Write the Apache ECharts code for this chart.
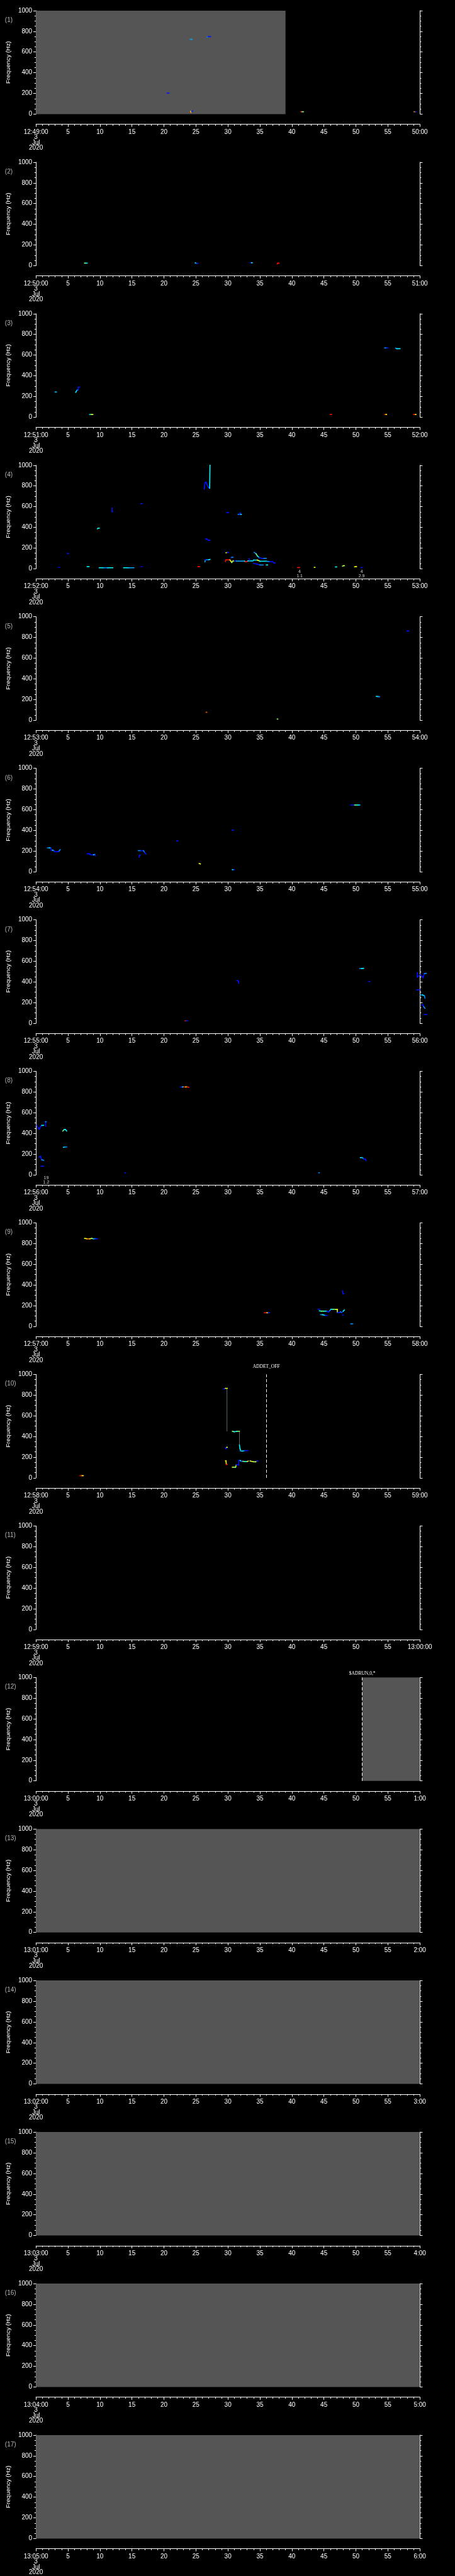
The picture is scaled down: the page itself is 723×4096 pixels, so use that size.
<!DOCTYPE html>
<html>
<head>
<meta charset="utf-8">
<script src="https://cdn.jsdelivr.net/npm/echarts@6/dist/echarts.min.js"></script>
<style>
  html, body { margin: 0; padding: 0; background: #000; }
  #chart { width: 723px; height: 4096px; }
</style>
</head>
<body>
<div id="chart"></div>
<script>
const S = 0.706

// panel time labels (each panel = one minute, x in seconds)
const startLabels = ['12:49:00', '12:50:00', '12:51:00', '12:52:00', '12:53:00', '12:54:00', '12:55:00', '12:56:00', '12:57:00',
  '12:58:00', '12:59:00', '13:00:00', '13:01:00', '13:02:00', '13:03:00', '13:04:00', '13:05:00']
const endLabels = ['50:00', '51:00', '52:00', '53:00', '54:00', '55:00', '56:00', '57:00', '58:00',
  '59:00', '13:00:00', '1:00', '2:00', '3:00', '4:00', '5:00', '6:00']
const dateLines = ['3', 'Jul', '2020']

// gray (no data) blocks: [panel, t0, t1]
const grayBlocks = [[0, 0, 39], [11, 51, 60], [12, 0, 60], [13, 0, 60], [14, 0, 60], [15, 0, 60], [16, 0, 60]]
// event markers: [panel, t, text]
const markers = [[9, 36, 'ADDET_OFF'], [11, 51, '$ADRUN,0,*']]
// small notes under the plot: [panel, t, text]
const notes = [[3, 41.2, '4\n1.1'], [3, 50.9, '4\n2.9'], [7, 1.6, '19\n1.2']]

// traces: lists of [t (s), freq (Hz), level 0..1]
const tr1 = [
  [[20.5, 203, .16], [20.8, 203, .16]],
  [[24.1, 723, .3], [24.4, 723, .3]],
  [[26.8, 742, .27], [26.9, 749, .16], [27.3, 749, .16]],
  [[24.2, 15, .85], [24.2, 28, .7], [24.3, 30, .16], [24.5, 30, .16]],
  [[41.4, 23, .98], [41.6, 23, .57], [41.8, 23, .42]],
  [[59.1, 23, .85], [59.3, 23, .16], [59.4, 23, .16]],
]
const tr2 = [
  [[7.6, 24, .7], [7.75, 24, .42], [8.0, 24, .42]],
  [[24.9, 26, .42], [25.1, 22, .16], [25.3, 22, .16]],
  [[33.5, 28, .16], [33.7, 28, .42], [33.8, 28, .42]],
  [[37.7, 16, .98], [37.8, 24, .98], [38.0, 24, .98]],
]
const tr3 = [
  [[3.0, 243, .35], [3.2, 243, .35]],
  [[6.2, 240, .42], [6.4, 260, .27], [6.6, 265, .16], [6.6, 290, .16], [6.8, 290, .16]],
  [[8.4, 26, .42], [8.7, 26, .7], [8.9, 26, .42]],
  [[46.0, 26, .98], [46.2, 26, .98]],
  [[54.5, 669, .27], [54.8, 669, .16], [55.0, 669, .16]],
  [[56.2, 667, .27], [56.4, 662, .42], [56.9, 662, .16]],
  [[54.5, 26, .98], [54.7, 26, .7], [54.8, 26, .7]],
  [[59.0, 26, .98], [59.3, 26, .7], [59.4, 26, .7]],
]
const tr4 = [
  [[3.5, 13, .1], [3.7, 13, .1]],
  [[4.9, 148, .16], [5.1, 145, .16]],
  [[8.0, 20, .42], [8.3, 20, .42]],
  [[9.6, 385, .42], [9.7, 392, .42], [9.9, 392, .42]],
  [[9.9, 9, .42], [10.6, 9, .27], [11.2, 9, .42], [12.0, 9, .3]],
  [[11.9, 586, .16], [11.9, 552, .16], [12.0, 552, .7]],
  [[13.7, 9, .42], [14.5, 9, .3], [15.3, 9, .42]],
  [[16.4, 629, .16], [16.6, 629, .16]],
  [[16.4, 20, .1], [16.6, 20, .1]],
  [[25.3, 20, .98], [25.6, 20, .98]],
  [[26.3, 770, .16], [26.45, 835, .16], [26.6, 835, .16], [26.9, 790, .16], [27.1, 780, .27], [27.15, 780, .42], [27.2, 1000, .42]],
  [[26.5, 287, .16], [26.7, 287, .16], [27.0, 274, .16], [27.2, 274, .3]],
  [[26.4, 65, .3], [26.5, 86, .16], [26.7, 86, .27], [27.0, 86, .42], [27.2, 90, .57]],
  [[29.7, 154, .7], [29.9, 157, .16], [30.1, 157, .16]],
  [[29.8, 542, .16], [30.1, 542, .16]],
  [[31.6, 525, .27], [31.8, 525, .16], [31.9, 540, .16], [32.0, 525, .42], [32.1, 525, .42]],
  [[30.5, 105, .16], [30.6, 110, .27], [30.8, 110, .27]],
  [[29.6, 70, .98], [29.7, 85, .98], [30.3, 85, .7], [30.5, 70, .7], [30.6, 60, .57], [30.8, 75, .7], [31.0, 75, .16], [31.3, 73, .3],
    [32.6, 73, .42], [32.7, 68, .98], [33.0, 70, .98], [33.1, 75, .42], [33.9, 75, .3], [34.0, 83, .42], [34.6, 83, .7], [35.0, 72, .42],
    [36.0, 72, .3], [36.5, 68, .16], [37.0, 68, .16], [37.2, 55, .16], [37.4, 55, .16]],
  [[33.3, 98, .16], [33.4, 80, .16]],
  [[34.1, 158, .27], [34.4, 144, .57], [34.6, 123, .42], [34.9, 107, .16], [35.3, 100, .16], [35.6, 100, .27], [36.0, 100, .16]],
  [[34.0, 50, .16], [34.5, 45, .16], [35.0, 36, .27], [35.5, 36, .16]],
  [[36.0, 36, .42], [36.2, 36, .42]],
  [[40.9, 11, .98], [41.2, 11, .1]],
  [[43.5, 13, .7], [43.6, 13, .7]],
  [[46.8, 17, .42], [47.0, 17, .42]],
  [[47.9, 25, .57], [48.1, 29, .7], [48.2, 29, .7]],
  [[49.8, 18, .7], [50.0, 20, .7], [50.1, 20, .7]],
  [[50.8, 11, .16], [51.0, 11, .16]],
]
const tr5 = [
  [[26.6, 77, .9], [26.7, 77, .9]],
  [[37.7, 11, .6], [37.8, 11, .6]],
  [[53.2, 231, .42], [53.5, 229, .27], [53.7, 227, .16]],
  [[58.0, 862, .16], [58.3, 862, .16]],
]
const tr6 = [
  [[1.8, 230, .27], [2.1, 230, .42], [2.3, 230, .16], [2.4, 208, .16], [2.6, 208, .42], [2.8, 203, .16], [2.9, 194, .16], [3.5, 194, .16], [3.6, 200, .27], [3.8, 215, .27]],
  [[8.0, 174, .16], [8.4, 174, .16], [8.5, 163, .16], [9.0, 163, .42], [9.2, 168, .16], [9.3, 155, .16]],
  [[16.0, 204, .27], [16.4, 204, .16], [16.8, 204, .27], [17.0, 185, .16], [17.2, 170, .42]],
  [[16.1, 141, .16], [16.2, 160, .16], [16.3, 160, .16]],
  [[22.0, 298, .16], [22.2, 298, .16]],
  [[25.5, 80, .7], [25.7, 76, .57]],
  [[30.6, 402, .16], [30.9, 402, .16]],
  [[30.7, 20, .42], [30.9, 20, .16], [31.0, 20, .16]],
  [[49.2, 645, .16], [49.8, 645, .57], [50.2, 645, .42], [50.6, 645, .16]],
]
const tr7 = [
  [[23.3, 22, .98], [23.5, 24, .16], [23.7, 24, .16]],
  [[31.4, 411, .16], [31.6, 411, .16], [31.7, 386, .16]],
  [[50.6, 529, .27], [50.9, 529, .42], [51.2, 531, .27]],
  [[52.0, 404, .16], [52.2, 404, .16]],
  [[59.6, 490, .16], [59.6, 447, .16], [60.1, 469, .16], [60.5, 440, .16], [60.7, 480, .27], [61.0, 483, .42]],
  [[59.5, 323, .16], [60.0, 323, .16]],
  [[60.1, 274, .27], [60.4, 274, .42], [60.7, 265, .27], [60.8, 243, .16]],
  [[60.3, 175, .16], [60.5, 180, .16], [60.6, 160, .27], [60.8, 144, .42]],
  [[60.7, 84, .16], [61.1, 84, .16]],
]
const tr8 = [
  [[0.1, 480, .16], [0.3, 455, .16], [0.5, 440, .16], [0.7, 465, .16], [0.9, 478, .42], [1.2, 478, .42]],
  [[1.5, 470, .16], [1.5, 513, .27], [1.6, 513, .27]],
  [[0.5, 170, .16], [0.7, 180, .16], [0.9, 145, .27], [1.2, 140, .42]],
  [[0.8, 83, .16], [1.2, 83, .16]],
  [[4.2, 423, .57], [4.4, 437, .42], [4.6, 437, .42], [4.8, 423, .57]],
  [[4.3, 266, .42], [4.5, 269, .27], [4.8, 269, .27]],
  [[13.9, 20, .16], [14.0, 20, .16]],
  [[22.6, 849, .16], [22.9, 849, .42], [23.1, 849, .98], [23.4, 849, .7], [23.6, 849, .98], [23.9, 846, .7]],
  [[44.2, 20, .27], [44.3, 20, .27]],
  [[50.7, 166, .42], [51.0, 166, .27], [51.2, 155, .16], [51.5, 150, .16], [51.6, 138, .16]],
]
const tr9 = [
  [[7.6, 850, .7], [8.0, 846, .85], [8.4, 846, .7], [8.7, 850, .57], [9.0, 846, .27], [9.3, 848, .16], [9.6, 846, .16]],
  [[35.7, 131, .98], [36.1, 131, .7], [36.3, 131, .16], [36.5, 131, .16]],
  [[44.1, 165, .16], [44.3, 165, .16]],
  [[44.3, 150, .42], [44.6, 147, .57], [45.0, 147, .42], [45.5, 147, .16], [45.7, 137, .16], [45.9, 150, .27], [46.1, 165, .42], [46.4, 165, .57],
    [46.9, 163, .7], [47.1, 163, .7], [47.1, 133, .16], [47.4, 133, .16], [47.6, 140, .27], [47.8, 133, .16], [48.0, 145, .42], [48.2, 158, .27]],
  [[44.5, 114, .27], [44.8, 112, .42], [45.2, 106, .16], [45.5, 104, .16]],
  [[47.9, 343, .16], [48.0, 315, .16], [48.1, 315, .16]],
  [[47.9, 108, .16], [48.0, 108, .16]],
  [[49.2, 24, .27], [49.5, 24, .42]],
]
const tr10 = [
  [[6.9, 21, .98], [7.2, 21, .7], [7.4, 21, .16]],
  [[29.3, 860, .16], [29.6, 865, .7], [29.9, 865, .16]],
  [[29.6, 290, .16], [29.7, 280, .16], [29.8, 295, .7], [29.9, 295, .7]],
  [[29.6, 165, .85], [29.7, 165, .7], [29.75, 130, .98], [29.9, 130, .85]],
  [[30.7, 450, .57], [31.0, 446, .42], [31.4, 450, .57], [31.8, 450, .42]],
  [[31.8, 317, .42], [31.9, 280, .42], [32.0, 260, .3], [32.2, 258, .42], [32.6, 263, .16], [33.1, 263, .27]],
  [[30.7, 103, .7], [31.0, 103, .42], [31.2, 103, .7], [31.3, 125, .16], [31.7, 125, .16], [31.7, 168, .16], [31.9, 168, .42], [32.1, 160, .16],
    [32.3, 160, .57], [32.7, 158, .42], [33.0, 158, .7], [33.3, 163, .16], [33.5, 163, .7], [34.0, 155, .57], [34.3, 155, .7], [34.5, 160, .16], [34.7, 165, .42]],
]
// thin connector lines in panel 10: [t0, f0, t1, f1]
const thin10 = [[29.85, 863, 29.85, 450], [31.8, 450, 31.8, 317]]

const traces = [tr1, tr2, tr3, tr4, tr5, tr6, tr7, tr8, tr9, tr10, [], [], [], [], [], [], []]
const jet = ['#0000a0', '#0000ff', '#00a0ff', '#00ffff', '#80ff80', '#ffff00', '#ff8000', '#ff0000']

const font = 'Liberation Sans'
const gridTop = (i) => (24 + i * 341.27) * S

let grids = [], xAxes = [], yAxes = [], series = [], graphics = [], traceIdx = []

for (let i = 0; i < 17; i++) {
  grids.push({ left: 80 * S, width: 865 * S, top: gridTop(i), height: 233 * S })
  xAxes.push({
    type: "value", gridIndex: i, min: 0, max: 60, interval: 5, position: "bottom", offset: 23 * S,
    axisLine: { show: true, onZero: false, lineStyle: { color: "#fff", width: 1 } },
    axisTick: { show: true, length: 4, lineStyle: { color: "#fff" } },
    minorTick: { show: true, splitNumber: 5, length: 2.3, lineStyle: { color: "#fff" } },
    splitLine: { show: false },
    axisLabel: {
      color: "#fff", fontSize: 10, fontFamily: font, margin: 8, lineHeight: 8.5, interval: 0,
      showMinLabel: true, showMaxLabel: true,
      formatter: (v) => v === 0 ? startLabels[i] + "\n" + dateLines.join("\n") : (v === 60 ? endLabels[i] : String(v)),
    },
  })
  yAxes.push({
    type: "value", gridIndex: i, min: 0, max: 1000, interval: 200, position: "left",
    name: "Frequency (Hz)", nameLocation: "middle", nameGap: 35,
    nameTextStyle: { color: "#fff", fontSize: 9.8, fontFamily: font },
    axisLine: { show: true, lineStyle: { color: "#fff", width: 1 } },
    axisTick: { show: true, length: 4.2, lineStyle: { color: "#fff" } },
    minorTick: { show: true, splitNumber: 4, length: 2.3, lineStyle: { color: "#fff" } },
    splitLine: { show: false },
    axisLabel: { color: "#fff", fontSize: 10, fontFamily: font, margin: 6, formatter: (v) => String(v) },
  })
  yAxes.push({
    type: "value", gridIndex: i, min: 0, max: 1000, interval: 200, position: "right",
    axisLine: { show: true, lineStyle: { color: "#fff", width: 1 } },
    axisTick: { show: true, length: 4.2, lineStyle: { color: "#fff" } },
    minorTick: { show: true, splitNumber: 4, length: 2.3, lineStyle: { color: "#fff" } },
    splitLine: { show: false },
    axisLabel: { show: false },
  })

  // gray no-data blocks
  let blocks = grayBlocks.filter((b) => b[0] === i).map((b) => [b[1], b[2]])
  if (blocks.length) {
    series.push({
      type: "custom", xAxisIndex: i, yAxisIndex: i * 2, z: 1, silent: true,
      data: blocks,
      renderItem: (params, api) => {
        let a = api.coord([api.value(0), 1000])
        let b = api.coord([api.value(1), 0])
        return { type: "rect", shape: { x: a[0], y: a[1], width: b[0] - a[0], height: b[1] - a[1] }, style: { fill: "#555555" } }
      },
    })
  }

  // trace segments
  let segs = []
  traces[i].forEach((tr) => {
    for (let k = 0; k < tr.length - 1; k++) {
      segs.push([tr[k][0], tr[k][1], tr[k + 1][0], tr[k + 1][1], tr[k][2]])
    }
  })
  let mk = markers.filter((m) => m[0] === i)
  traceIdx.push(series.length)
  series.push({
    type: "custom", xAxisIndex: i, yAxisIndex: i * 2, z: 3, silent: true, clip: false,
    encode: { x: [0, 2], y: [1, 3] },
    data: segs,
    renderItem: (params, api) => {
      let a = api.coord([api.value(0), api.value(1)])
      let b = api.coord([api.value(2), api.value(3)])
      return { type: "line", shape: { x1: a[0], y1: a[1], x2: b[0], y2: b[1] }, style: { stroke: api.visual("color"), lineWidth: 1.6, lineCap: "square" } }
    },
    markLine: mk.length ? {
      symbol: "none", silent: true, animation: false,
      lineStyle: { color: "#fff", type: [5, 3], width: 1 },
      label: { show: true, position: "end", distance: mk[0][2] === "ADDET_OFF" ? 8 : 2, color: "#fff", fontSize: 7.5, fontFamily: "Liberation Sans Narrow", formatter: mk[0][2] },
      data: mk.map((m) => ({ xAxis: m[1] })),
    } : undefined,
  })

  if (i === 9) {
    series.push({
      type: "custom", xAxisIndex: i, yAxisIndex: i * 2, z: 2, silent: true,
      encode: { x: [0, 2], y: [1, 3] },
      data: thin10,
      renderItem: (params, api) => {
        let a = api.coord([api.value(0), api.value(1)])
        let b = api.coord([api.value(2), api.value(3)])
        return { type: "line", shape: { x1: a[0], y1: a[1], x2: b[0], y2: b[1] }, style: { stroke: "#7f95a8", lineWidth: 0.7 } }
      },
    })
  }

  let nt = notes.filter((n) => n[0] === i)
  if (nt.length) {
    series.push({
      type: "scatter", xAxisIndex: i, yAxisIndex: i * 2, symbolSize: 0, silent: true,
      data: nt.map((n) => ({ value: [n[1], 0], name: n[2] })),
      label: { show: true, position: "bottom", distance: 1.5, formatter: "{b}", color: "#fff", fontSize: 7, lineHeight: 7, fontFamily: font },
    })
  }

  graphics.push({
    type: "text", left: 14.8 - 7, top: gridTop(i) + 16.2 - 6,
    style: { text: "(" + (i + 1) + ")", fill: "#b4b4b4", fontSize: 10, fontFamily: font },
  })
}

let myChart = echarts.init(document.getElementById("chart"))
myChart.setOption({
  backgroundColor: "#000",
  animation: false,
  grid: grids,
  xAxis: xAxes,
  yAxis: yAxes,
  visualMap: {
    show: false, type: "continuous", min: 0, max: 1, dimension: 4,
    seriesIndex: traceIdx, inRange: { color: jet },
  },
  graphic: graphics,
  series: series,
})
</script>
</body>
</html>
